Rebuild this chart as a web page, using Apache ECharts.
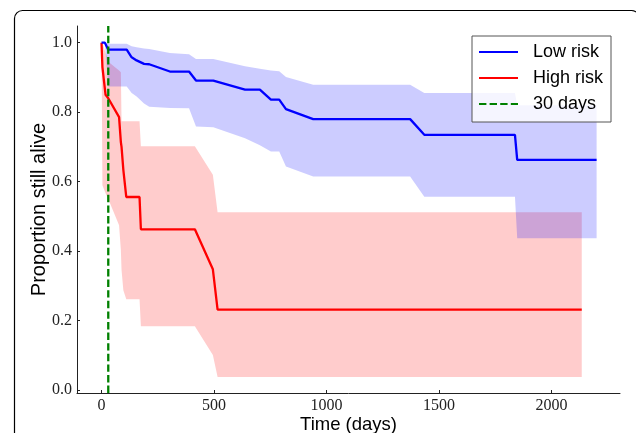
<!DOCTYPE html>
<html><head><meta charset="utf-8">
<script src="https://cdn.jsdelivr.net/npm/echarts@6/dist/echarts.min.js"></script>
<style>html,body{margin:0;padding:0;background:#fff}#c{width:636px;height:433px}</style>
</head><body><div id="c"></div>
<script>
// Low risk group (time in days, survival, CI upper, CI lower)
const lowT     = [0, 15, 30, 112, 134, 156, 189, 212, 304, 389, 420, 497, 638, 704, 753, 790, 820, 941, 1372, 1435, 1838, 1848, 2201];
const lowS     = [1.0, 1.0, 0.98, 0.98, 0.958, 0.949, 0.939, 0.938, 0.917, 0.917, 0.891, 0.891, 0.865, 0.865, 0.836, 0.836, 0.809, 0.78, 0.78, 0.735, 0.735, 0.663, 0.663];
const lowUpper = [1.0, 1.0, 0.997, 0.997, 0.99, 0.987, 0.983, 0.982, 0.970, 0.967, 0.953, 0.953, 0.932, 0.925, 0.920, 0.918, 0.901, 0.879, 0.879, 0.855, 0.855, 0.82, 0.82];
const lowLower = [1.0, 1.0, 0.874, 0.874, 0.855, 0.845, 0.825, 0.816, 0.812, 0.811, 0.759, 0.757, 0.725, 0.705, 0.687, 0.687, 0.644, 0.615, 0.615, 0.557, 0.557, 0.437, 0.437];
// High risk group
const highT     = [0, 4, 18, 30, 78, 86, 89, 97, 110, 169, 175, 415, 495, 516, 2135];
const highS     = [1.0, 0.93, 0.85, 0.84, 0.786, 0.714, 0.70, 0.634, 0.556, 0.556, 0.463, 0.463, 0.348, 0.232, 0.232];
const highUpper = [1.0, 1.0, 0.97, 0.945, 0.92, 0.915, 0.774, 0.774, 0.774, 0.774, 0.702, 0.702, 0.62, 0.512, 0.512];
const highLower = [1.0, 0.59, 0.567, 0.55, 0.475, 0.403, 0.346, 0.288, 0.262, 0.262, 0.184, 0.184, 0.101, 0.038, 0.038];
// Reference line and ticks
const cutoffDay = 30;
const xTicks = [0, 500, 1000, 1500, 2000];
const yTicks = [0.0, 0.2, 0.4, 0.6, 0.8, 1.0];

const X_MIN = -109, X_MAX = 2305, Y_MIN = -0.008, Y_MAX = 1.048;

const pairs = (t, v) => t.map((x, i) => [x, v[i]]);

function band(name, t, u, l, color) {
  // one data row per CI point: [time, upper, lower]; polygon drawn once through api.coord
  const rows = t.map((x, i) => [x, u[i], l[i]]);
  return {
    name: name, type: 'custom', data: rows, silent: true, z: 1,
    encode: { x: 0, y: [1, 2] },
    renderItem: function (params, api) {
      if (params.dataIndex !== 0) return null;
      const top = rows.map(r => api.coord([r[0], r[1]]));
      const bot = rows.slice().reverse().map(r => api.coord([r[0], r[2]]));
      return {
        type: 'polygon',
        shape: { points: top.concat(bot) },
        style: { fill: color, stroke: null }
      };
    }
  };
}

const chart = echarts.init(document.getElementById('c'), null, { renderer: 'canvas' });
chart.setOption({
  animation: false,
  backgroundColor: '#fff',
  grid: { left: 77, right: 16, top: 26, bottom: 40, containLabel: false, outerBoundsMode: 'none' },
  xAxis: {
    type: 'value', min: X_MIN, max: X_MAX,
    name: 'Time (days)', nameLocation: 'middle', nameGap: 22, nameMoveOverlap: false,
    nameTextStyle: { fontFamily: 'Liberation Sans', fontSize: 18.5, color: '#000' },
    axisLine: { show: true, onZero: false, lineStyle: { color: '#222', width: 1 } },
    axisTick: { show: true, inside: true, length: 3, customValues: xTicks, lineStyle: { color: '#222' } },
    axisLabel: { customValues: xTicks, formatter: v => String(v), fontFamily: 'Liberation Serif', fontSize: 16, color: '#222', margin: 5 },
    splitLine: { show: false }
  },
  yAxis: {
    type: 'value', min: Y_MIN, max: Y_MAX,
    name: 'Proportion still alive', nameLocation: 'middle', nameGap: 28, nameRotate: 90, nameMoveOverlap: false,
    nameTextStyle: { fontFamily: 'Liberation Sans', fontSize: 20, color: '#000' },
    axisLine: { show: true, onZero: false, lineStyle: { color: '#222', width: 1 } },
    axisTick: { show: true, inside: true, length: 3, customValues: yTicks, lineStyle: { color: '#222' } },
    axisLabel: { customValues: yTicks, formatter: v => v.toFixed(1), fontFamily: 'Liberation Serif', fontSize: 16, color: '#222', margin: 5 },
    splitLine: { show: false }
  },
  legend: {
    data: ['Low risk', 'High risk', '30 days'],
    orient: 'vertical', left: 472, top: 36,
    itemWidth: 39, itemHeight: 14, itemGap: 8,
    padding: [7, 8, 9, 6],
    itemStyle: { opacity: 0 },
    backgroundColor: 'rgba(255,255,255,0.8)', borderColor: '#555', borderWidth: 1, borderRadius: 0,
    textStyle: { fontFamily: 'Liberation Sans', fontSize: 18, color: '#000', padding: [0, 0, 0, 10] }
  },
  graphic: [{
    type: 'rect', silent: true, z: 100,
    shape: { x: 14.5, y: 10.5, width: 625, height: 450, r: 8 },
    style: { fill: 'none', stroke: '#000', lineWidth: 1.2 }
  }],
  series: [
    band('highBand', highT, highUpper, highLower, 'rgba(255,0,0,0.2)'),
    band('lowBand', lowT, lowUpper, lowLower, 'rgba(0,0,255,0.2)'),
    { name: 'High risk', type: 'line', data: pairs(highT, highS), symbol: 'none',
      lineStyle: { color: '#ff0000', width: 2.3 }, itemStyle: { color: '#ff0000' }, z: 3 },
    { name: 'Low risk', type: 'line', data: pairs(lowT, lowS), symbol: 'none',
      lineStyle: { color: '#0000ff', width: 2.3 }, itemStyle: { color: '#0000ff' }, z: 3 },
    { name: '30 days', type: 'line', data: [[cutoffDay, Y_MIN], [cutoffDay, Y_MAX]], symbol: 'none',
      lineStyle: { color: '#008000', width: 2.3, type: [7.4, 3.2] }, itemStyle: { color: '#008000' }, z: 4 }
  ]
});
</script>
</body></html>
